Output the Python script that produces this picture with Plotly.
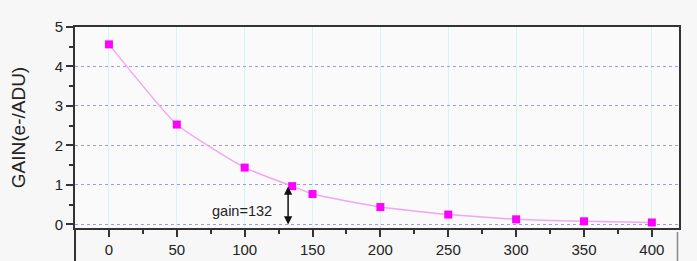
import plotly.graph_objects as go

temps = [0, 50, 100, 135, 150, 200, 250, 300, 350, 400]
gain = [4.56, 2.53, 1.44, 0.97, 0.77, 0.44, 0.25, 0.13, 0.08, 0.05]
x_ticks = [0, 50, 100, 150, 200, 250, 300, 350, 400]
y_ticks = [0, 1, 2, 3, 4, 5]
marker_gain = 132
marker_level = 1.0
gain_label = "gain=132"

fig = go.Figure()
fig.add_trace(go.Scatter(
    x=temps, y=gain, mode="lines+markers",
    line=dict(color="#f3a6ef", width=1.5, shape="spline", smoothing=0.45),
    marker=dict(symbol="square", size=8, color="#ff00ff"),
    showlegend=False, cliponaxis=False,
))

fig.add_annotation(
    x=marker_gain, y=0, ax=marker_gain, ay=marker_level,
    xref="x", yref="y", axref="x", ayref="y",
    showarrow=True, arrowhead=2, startarrowhead=2, arrowside="end+start",
    arrowsize=1.1, arrowwidth=1.5, arrowcolor="#111111", text="",
)
fig.add_annotation(
    x=98, y=0.34, xref="x", yref="y", text=gain_label, showarrow=False,
    font=dict(family="Liberation Sans, Arial", size=14.5, color="#222222"),
)

# lines continuing below the frame (next panel)
fig.add_shape(type="line", xref="paper", yref="paper", x0=0, x1=0, y0=0, y1=-0.2,
              line=dict(color="#333333", width=2))
fig.add_shape(type="line", xref="paper", yref="paper", x0=0.9975, x1=0.9975, y0=-0.02, y1=-0.2,
              line=dict(color="#888888", width=1.5))

axis_font = dict(family="Liberation Sans, Arial", size=15, color="#222222")
fig.update_xaxes(
    automargin=False,
    range=[-25, 420], tickvals=x_ticks, ticks="outside", ticklen=7, tickwidth=2,
    tickcolor="#333333", tickfont=axis_font,
    showline=True, linecolor="#333333", linewidth=2, mirror=True,
    showgrid=True, gridcolor="#d3f5f5", gridwidth=1, zeroline=False,
    minor=dict(dtick=25, tick0=0, ticks="outside", ticklen=4, tickcolor="#333333", showgrid=False),
)
fig.update_yaxes(
    automargin=False,
    range=[-0.09, 5], tickvals=y_ticks, ticks="outside", ticklen=7, tickwidth=2,
    tickcolor="#333333", tickfont=axis_font,
    showline=True, linecolor="#333333", linewidth=2, mirror=True,
    showgrid=True, gridcolor="#9a9aee", gridwidth=1, griddash="dot", zeroline=False,
    minor=dict(dtick=0.5, tick0=0, ticks="outside", ticklen=4, tickcolor="#333333", showgrid=False),
    title=dict(text="GAIN(e-/ADU)", font=dict(family="Liberation Sans, Arial", size=19, color="#222222"),
               standoff=24),
)
fig.update_layout(
    width=697, height=261,
    margin=dict(l=75, r=18, t=27, b=33),
    paper_bgcolor="#f7f7f7", plot_bgcolor="#fafafa",
)
fig.write_html("out.html")
